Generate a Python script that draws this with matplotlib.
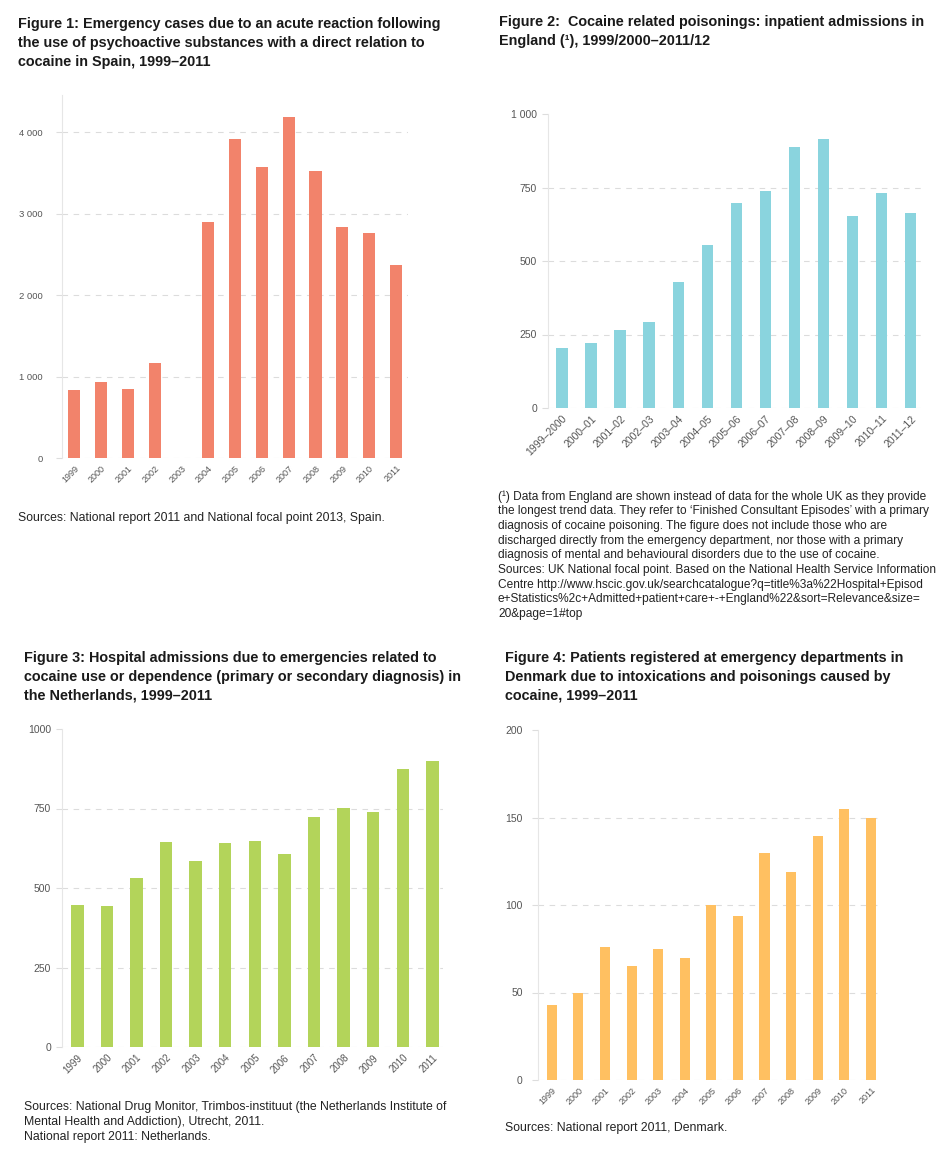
import numpy as np
import matplotlib
matplotlib.use('Agg')
import matplotlib.pyplot as plt
from matplotlib.ticker import FuncFormatter

plt.rcParams['font.family'] = ['Liberation Sans', 'DejaVu Sans']

# Figure 1: Spain
spain_years = ['1999', '2000', '2001', '2002', '2003', '2004', '2005', '2006',
               '2007', '2008', '2009', '2010', '2011']
spain_cases = [831, 934, 848, 1167, 0, 2899, 3919, 3575, 4189, 3530, 2834, 2764, 2375]

# Figure 2: England
england_years = ['1999–2000', '2000–01', '2001–02', '2002–03', '2003–04', '2004–05',
                 '2005–06', '2006–07', '2007–08', '2008–09', '2009–10', '2010–11', '2011–12']
england_admissions = [205, 221, 264, 292, 427, 555, 698, 738, 889, 914, 653, 730, 664]

# Figure 3: Netherlands
nl_years = spain_years
nl_admissions = [448, 444, 530, 646, 585, 642, 649, 606, 722, 751, 738, 873, 898]

# Figure 4: Denmark
dk_years = spain_years
dk_patients = [43, 50, 76, 65, 75, 69.5, 100, 93.5, 129.5, 119, 139.5, 155, 150]

W, H = 950, 1163
fig = plt.figure(figsize=(W / 100, H / 100), dpi=100)


def box(l, t, r, b):
    # pixel box -> figure fraction
    return [l / W, 1 - b / H, (r - l) / W, (b - t) / H]


def txt(x, y, s, **kw):
    fig.text(x / W, 1 - y / H, s, va='top', ha='left', **kw)


def space_thousands(v, pos):
    return '{:,.0f}'.format(v).replace(',', ' ')


def plain(v, pos):
    return '{:.0f}'.format(v)


def bar_panel(rect, labels, values, color, ymax, yticks, xlim, width, xfs, yfs,
              ypad, fmt, grid_top):
    ax = fig.add_axes(rect)
    x = np.arange(len(labels))
    ax.bar(x, values, width=width, color=color, zorder=2)
    ax.set_xlim(*xlim)
    ax.set_ylim(0, ymax)
    ax.set_yticks(yticks)
    ax.yaxis.set_major_formatter(FuncFormatter(fmt))
    ax.set_xticks(x)
    ax.set_xticklabels(labels, rotation=45, ha='right', rotation_mode='anchor',
                       fontsize=xfs, color='#555555')
    for s in ['top', 'right', 'bottom']:
        ax.spines[s].set_visible(False)
    ax.spines['left'].set_color('#e6e6e6')
    ax.tick_params(axis='y', length=4, color='#dddddd', labelsize=yfs,
                   labelcolor='#555555', pad=ypad)
    ax.tick_params(axis='x', length=0, pad=4)
    gl = yticks if grid_top else yticks[:-1]
    for g in gl:
        ax.axhline(g, color='#dcdcdc', lw=0.8, ls=(0, (5, 5)), zorder=1)
    return ax


title_kw = dict(fontsize=10.4, fontweight='bold', color='#1a1a1a', linespacing=1.45)
note_kw = dict(fontsize=8.8, color='#222222', linespacing=1.3)

# Figure 1
txt(18, 17, 'Figure 1: Emergency cases due to an acute reaction following\n'
            'the use of psychoactive substances with a direct relation to\n'
            'cocaine in Spain, 1999–2011', **title_kw)
bar_panel(box(62, 95, 408, 458), spain_years, spain_cases, '#F2836B', 4460,
          [0, 1000, 2000, 3000, 4000], (-0.45, 12.45), 0.45, 6.5, 6.8, 10,
          space_thousands, True)
txt(18, 512, 'Sources: National report 2011 and National focal point 2013, Spain.', **note_kw)

# Figure 2
txt(499, 15, 'Figure 2:  Cocaine related poisonings: inpatient admissions in\n'
             'England (¹), 1999/2000–2011/12', **title_kw)
bar_panel(box(548, 114, 925, 408), england_years, england_admissions, '#8AD4DE', 1000,
          [0, 250, 500, 750, 1000], (-0.48, 12.49), 0.39, 7.5, 7.5, 4,
          space_thousands, False)
txt(498, 490, '(¹) Data from England are shown instead of data for the whole UK as they provide\n'
              'the longest trend data. They refer to ‘Finished Consultant Episodes’ with a primary\n'
              'diagnosis of cocaine poisoning. The figure does not include those who are\n'
              'discharged directly from the emergency department, nor those with a primary\n'
              'diagnosis of mental and behavioural disorders due to the use of cocaine.\n'
              'Sources: UK National focal point. Based on the National Health Service Information\n'
              'Centre http://www.hscic.gov.uk/searchcatalogue?q=title%3a%22Hospital+Episod\n'
              'e+Statistics%2c+Admitted+patient+care+-+England%22&sort=Relevance&size=\n'
              '20&page=1#top', **dict(note_kw, fontsize=8.6))

# Figure 3
txt(24, 651, 'Figure 3: Hospital admissions due to emergencies related to\n'
             'cocaine use or dependence (primary or secondary diagnosis) in\n'
             'the Netherlands, 1999–2011', **title_kw)
bar_panel(box(62, 729, 443, 1047), nl_years, nl_admissions, '#B3D45A', 1000,
          [0, 250, 500, 750, 1000], (-0.52, 12.36), 0.42, 7, 7.5, 4,
          plain, False)
txt(24, 1101, 'Sources: National Drug Monitor, Trimbos-instituut (the Netherlands Institute of\n'
              'Mental Health and Addiction), Utrecht, 2011.\n'
              'National report 2011: Netherlands.', **dict(note_kw, linespacing=1.35))

# Figure 4
txt(505, 651, 'Figure 4: Patients registered at emergency departments in\n'
              'Denmark due to intoxications and poisonings caused by\n'
              'cocaine, 1999–2011', **title_kw)
bar_panel(box(538, 730, 882, 1080), dk_years, dk_patients, '#FFC061', 200,
          [0, 50, 100, 150, 200], (-0.52, 12.42), 0.38, 6.5, 7.5, 7,
          plain, False)
txt(505, 1122, 'Sources: National report 2011, Denmark.', **note_kw)

fig.savefig('out.png', dpi=100)
